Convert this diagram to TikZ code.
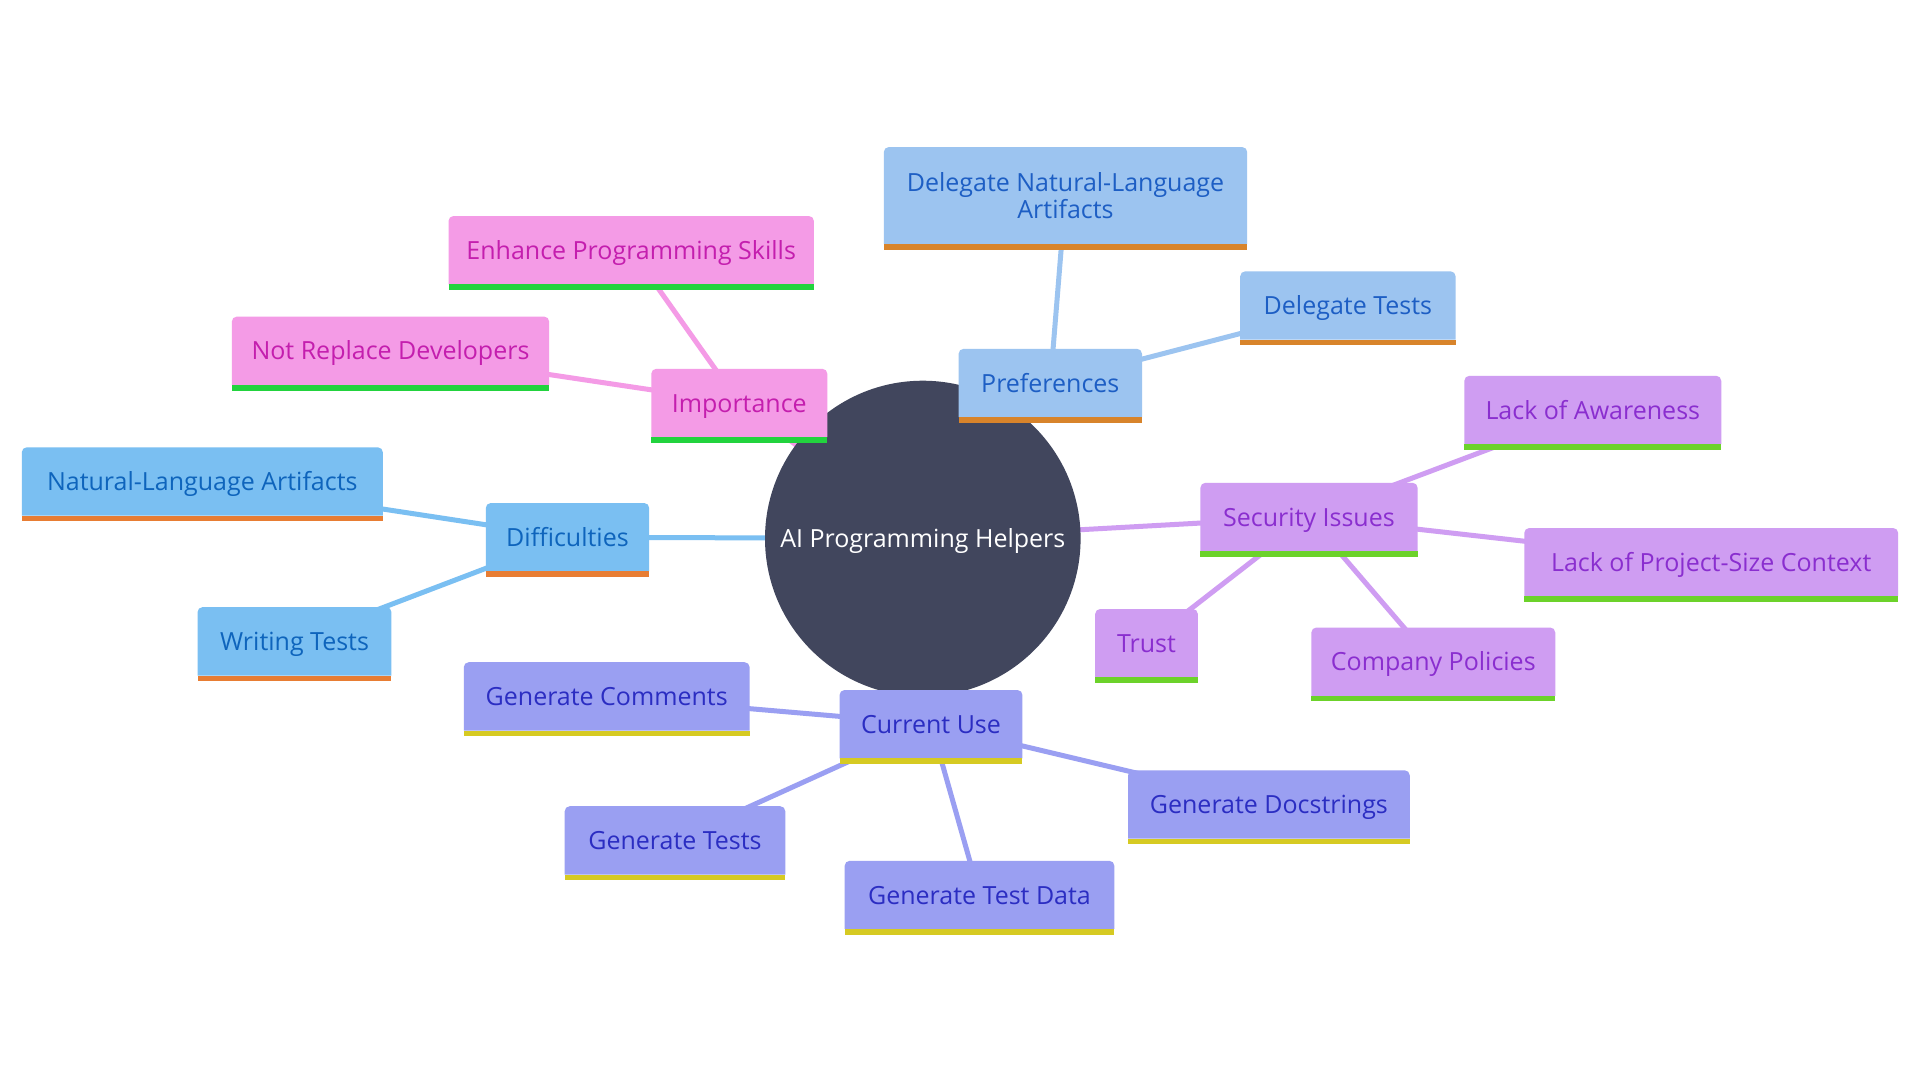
\documentclass[tikz,border=0pt]{standalone}
\usepackage{fontspec}
\setmainfont{Open Sans}
\pgfdeclarelayer{bg}
\pgfdeclarelayer{edges}
\pgfdeclarelayer{boxes}
\pgfsetlayers{bg,edges,boxes,main}
\definecolor{pinkfill}{HTML}{F49BE6}
\definecolor{pinktxt}{HTML}{C41EAE}
\definecolor{pinkbar}{HTML}{22D33E}
\definecolor{difffill}{HTML}{7ABFF2}
\definecolor{difftxt}{HTML}{0E64BC}
\definecolor{diffbar}{HTML}{E87D33}
\definecolor{preffill}{HTML}{9CC4F0}
\definecolor{preftxt}{HTML}{1D5EC4}
\definecolor{prefbar}{HTML}{D8842B}
\definecolor{secfill}{HTML}{CF9DF2}
\definecolor{sectxt}{HTML}{8A2ECF}
\definecolor{secbar}{HTML}{6CD22A}
\definecolor{usefill}{HTML}{9A9FF2}
\definecolor{usetxt}{HTML}{2B2DC2}
\definecolor{usebar}{HTML}{D6CA22}
\definecolor{rootfill}{HTML}{41465D}
\tikzset{
  mtext/.style={inner sep=0pt, align=center, font=\fontsize{25}{28}\selectfont, text height=18pt, text depth=0pt},
  edge/.style={line width=5pt},
}
% [#1 extra options], #2 name, #3 cx, #4 cy (body centre), #5 width, #6 body height, #7 palette, #8 text
\newcommand\mmnode[8][]{%
  \node[mtext, text=#7txt, minimum width=#5, minimum height=#6, #1] (#2) at (#3,#4) {#8};
  \begin{pgfonlayer}{boxes}
    \fill[#7fill] (#2.south west) [rounded corners=5pt] -- (#2.north west) -- (#2.north east) [sharp corners] -- (#2.south east) -- cycle;
    \fill[#7bar] (#2.south west) rectangle ([yshift=-5.5pt]#2.south east);
  \end{pgfonlayer}
}
\begin{document}
\begin{tikzpicture}[x=1pt,y=-1pt]
\useasboundingbox (0,0) rectangle (1920,1080);
\begin{pgfonlayer}{bg}
\fill[white] (0,0) rectangle (1920,1080);
\end{pgfonlayer}
% root
\node[circle, minimum size=315.6pt, inner sep=0pt, text=white, font=\fontsize{25}{28}\selectfont, text height=18pt, text depth=0pt] (root) at (922.8,538.5) {AI Programming Helpers};
\begin{pgfonlayer}{boxes}
\fill[rootfill] (root.center) circle[radius=157.8pt];
\end{pgfonlayer}
% importance branch
\mmnode{imp}{739.3}{403}{175.7}{68}{pink}{Importance}
\mmnode{enh}{631.2}{250.2}{365}{68}{pink}{Enhance Programming Skills}
\mmnode{nrd}{390.5}{350.8}{317}{68}{pink}{Not Replace Developers}
% preferences branch
\mmnode{pref}{1050.3}{383}{183}{68}{pref}{Preferences}
\mmnode[text height={}, text depth={}]{dnla}{1065.5}{195.6}{363}{96.7}{pref}{Delegate Natural-Language\\[-1pt]Artifacts}
\mmnode{dtst}{1347.9}{305.5}{215}{68}{pref}{Delegate Tests}
% difficulties branch
\mmnode{diff}{567.5}{537.2}{163}{68}{diff}{Difficulties}
\mmnode{nla}{202.3}{481.5}{360.7}{68}{diff}{Natural-Language Artifacts}
\mmnode{wrt}{294.5}{641.3}{193.5}{68}{diff}{Writing Tests}
% security branch
\mmnode{sec}{1309}{517}{216.8}{68}{sec}{Security Issues}
\mmnode{loa}{1592.8}{410}{256.5}{68}{sec}{Lack of Awareness}
\mmnode{lpc}{1711.2}{562.2}{373.5}{68}{sec}{Lack of Project-Size Context}
\mmnode{trust}{1146.5}{643.2}{102.3}{68}{sec}{Trust}
\mmnode{cpol}{1433.3}{661.7}{243.5}{68}{sec}{Company Policies}
% current use branch
\mmnode{cur}{931}{724.2}{182.5}{68}{use}{Current Use}
\mmnode{gcom}{606.7}{696.4}{285.5}{68}{use}{Generate Comments}
\mmnode{gtst}{675}{840.4}{220.2}{68}{use}{Generate Tests}
\mmnode{gtd}{979.5}{895}{269.3}{68}{use}{Generate Test Data}
\mmnode{gdoc}{1268.9}{804.5}{281.3}{68}{use}{Generate Docstrings}
% edges
\begin{pgfonlayer}{edges}
\draw[edge, pinkfill] (root.center) -- (imp.center);
\draw[edge, pinkfill] (imp.center) -- (enh.center);
\draw[edge, pinkfill] (imp.center) -- (nrd.center);
\draw[edge, preffill] (root.center) -- (pref.center);
\draw[edge, preffill] (pref.center) -- (dnla.center);
\draw[edge, preffill] (pref.center) -- (dtst.center);
\draw[edge, difffill] (root.center) -- (diff.center);
\draw[edge, difffill] (diff.center) -- (nla.center);
\draw[edge, difffill] (diff.center) -- (wrt.center);
\draw[edge, secfill] (root.center) -- (sec.center);
\draw[edge, secfill] (sec.center) -- (loa.center);
\draw[edge, secfill] (sec.center) -- (lpc.center);
\draw[edge, secfill] (sec.center) -- (trust.center);
\draw[edge, secfill] (sec.center) -- (cpol.center);
\draw[edge, usefill] (root.center) -- (cur.center);
\draw[edge, usefill] (cur.center) -- (gcom.center);
\draw[edge, usefill] (cur.center) -- (gtst.center);
\draw[edge, usefill] (cur.center) -- (gtd.center);
\draw[edge, usefill] (cur.center) -- (gdoc.center);
\end{pgfonlayer}
\end{tikzpicture}
\end{document}
